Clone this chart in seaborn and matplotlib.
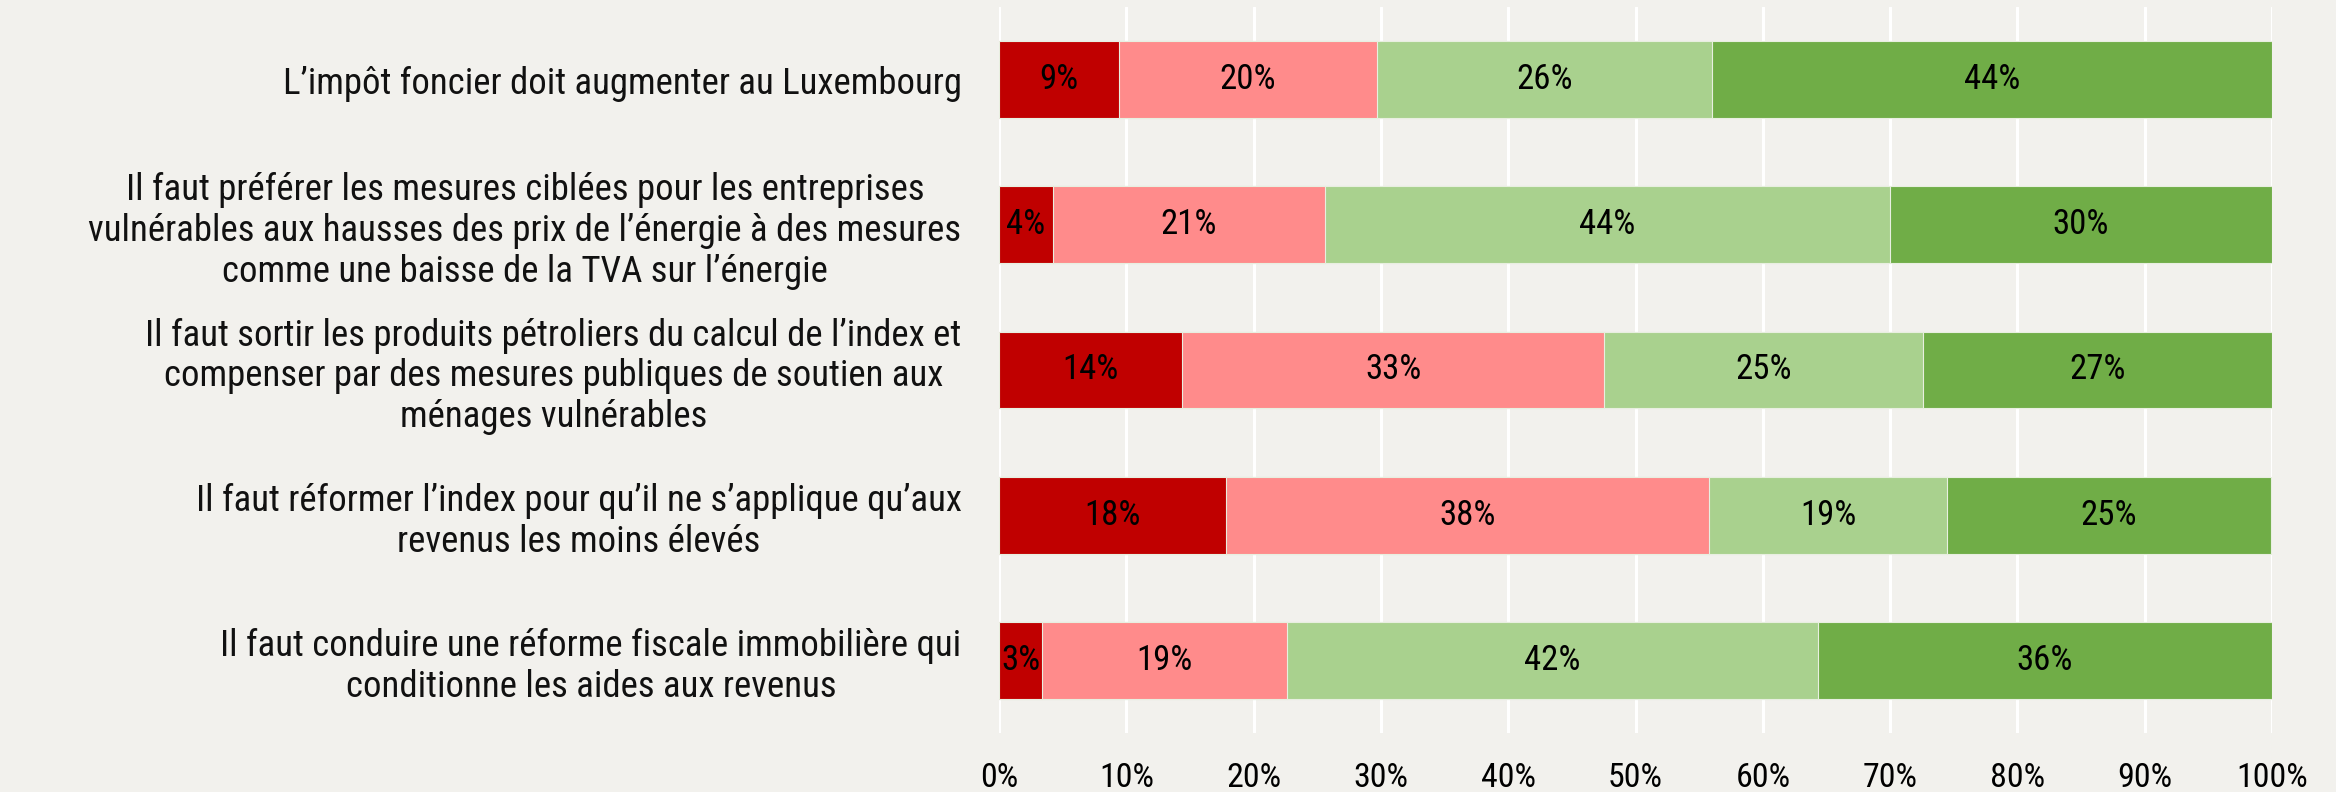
import seaborn as sns
import matplotlib.pyplot as plt
import matplotlib.ticker as mticker
import pandas as pd
from matplotlib import font_manager

statements = [
    "L\u2019imp\u00f4t foncier doit augmenter au Luxembourg",
    "Il faut pr\u00e9f\u00e9rer les mesures cibl\u00e9es pour les entreprises\nvuln\u00e9rables aux hausses des prix de l\u2019\u00e9nergie \u00e0 des mesures\ncomme une baisse de la TVA sur l\u2019\u00e9nergie",
    "Il faut sortir les produits p\u00e9troliers du calcul de l\u2019index et\ncompenser par des mesures publiques de soutien aux\nm\u00e9nages vuln\u00e9rables",
    "Il faut r\u00e9former l\u2019index pour qu\u2019il ne s\u2019applique qu\u2019aux\nrevenus les moins \u00e9lev\u00e9s",
    "Il faut conduire une r\u00e9forme fiscale immobili\u00e8re qui\nconditionne les aides aux revenus",
]

# answer shares in %, from "disagree strongly" to "agree strongly"
strongly_against = [9.4, 4.2, 14.4, 17.8, 3.4]
against = [20.3, 21.4, 33.1, 38.0, 19.2]
for_ = [26.3, 44.4, 25.1, 18.7, 41.7]
strongly_for = [44.0, 30.0, 27.4, 25.4, 35.7]

levels = ["strongly_against", "against", "for", "strongly_for"]
colors = ["#C00000", "#FF8B8B", "#A9D18E", "#70AD47"]

df = pd.DataFrame({
    "statement": statements,
    "strongly_against": strongly_against,
    "against": against,
    "for": for_,
    "strongly_for": strongly_for,
})
cum = df[levels].cumsum(axis=1)

bg = "#F2F1ED"
sns.set_theme(style="white", rc={"axes.facecolor": bg, "figure.facecolor": bg})

# pick a narrow face if one is installed
names = {f.name for f in font_manager.fontManager.ttflist}
narrow = [n for n in ["Roboto Condensed", "Liberation Sans Narrow", "DejaVu Sans Condensed"] if n in names]
plt.rcParams["font.family"] = narrow + ["DejaVu Sans"]
scale = 1.0 if narrow else 0.8

fig, ax = plt.subplots(figsize=(23.36, 7.92), dpi=100)
fig.subplots_adjust(left=0.4277, right=0.9726, top=0.9912, bottom=0.0745)

# stacked bars: draw cumulative totals from the right-most level backwards
for level, color in reversed(list(zip(levels, colors))):
    sns.barplot(data=cum.assign(statement=statements), x=level, y="statement",
                color=color, width=0.53, saturation=1, orient="h",
                edgecolor="#E8EFE0", linewidth=0.8, ax=ax)

for i in range(len(statements)):
    for level in levels:
        val = df.loc[i, level]
        center = cum.loc[i, level] - val / 2
        ax.text(center, i, f"{round(val)}%", ha="center", va="center",
                fontsize=25 * scale, color="black")

ax.set_xlim(0, 100)
ax.set_ylim(4.5, -0.5)
ax.xaxis.set_major_locator(mticker.MultipleLocator(10))
ax.xaxis.set_major_formatter(mticker.PercentFormatter(decimals=0))
ax.grid(axis="x", color="white", linewidth=2.2)
ax.set_axisbelow(True)
sns.despine(ax=ax, left=True, bottom=True)
ax.set_xlabel("")
ax.set_ylabel("")
ax.tick_params(axis="x", length=0, labelsize=24.5 * scale, pad=21, labelcolor="black")
ax.tick_params(axis="y", length=0, labelsize=26.5 * scale, pad=27, labelcolor="#111111")
for lab in ax.get_yticklabels():
    lab.set_multialignment("center")
    lab.set_linespacing(1.17)

plt.savefig("out.png", dpi=100, facecolor=bg)
